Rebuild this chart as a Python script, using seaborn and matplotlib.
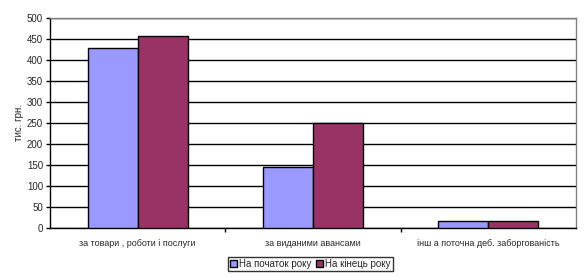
import matplotlib
matplotlib.use("Agg")
import matplotlib.pyplot as plt
import seaborn as sns
import pandas as pd

categories = ["за товари , роботи і послуги", "за виданими авансами", "інш а поточна деб. заборгованість"]
series_names = ["На початок року", "На кінець року"]
start_values = [430, 144, 17]
end_values = [457, 249, 15]
colors = ["#9999FF", "#993366"]

df = pd.DataFrame({
    "cat": categories * 2,
    "series": [series_names[0]] * 3 + [series_names[1]] * 3,
    "value": start_values + end_values,
})

sns.set_theme(style="white")
plt.rcParams["font.family"] = ["Liberation Sans", "DejaVu Sans"]

fig = plt.figure(figsize=(5.87, 2.77), dpi=100)
ax = fig.add_axes([0.0852, 0.178, 0.896, 0.756])
sns.barplot(data=df, x="cat", y="value", hue="series", palette=colors, saturation=1,
            width=0.57, edgecolor="black", linewidth=1.0, ax=ax, legend=True, zorder=3)

ax.set_ylim(0, 500)
ax.set_yticks(range(0, 501, 50))
ax.set_xlim(-0.5, 2.5)
ax.yaxis.grid(True, color="black", linewidth=1.0, zorder=0)
ax.set_axisbelow(True)
ax.set_xlabel("")
ax.set_ylabel("тис. грн.", fontsize=7, labelpad=2)
ax.tick_params(axis="y", labelsize=7, length=3, width=1, color="black", left=True, pad=2)
ax.tick_params(axis="x", labelsize=6.5, length=0, pad=8)
ax.set_xticks([0.5, 1.5], minor=True)
ax.tick_params(axis="x", which="minor", length=3, width=1, color="black", bottom=True)

for side in ["top", "right"]:
    ax.spines[side].set_color("#808080")
    ax.spines[side].set_linewidth(1)
ax.spines["left"].set_color("black")
ax.spines["bottom"].set_color("black")
ax.spines["left"].set_linewidth(1)
ax.spines["bottom"].set_linewidth(1)

leg = ax.legend(loc="upper center", bbox_to_anchor=(0.495, -0.14), ncol=2, fontsize=7,
                frameon=True, fancybox=False, edgecolor="black", handlelength=0.7,
                handleheight=0.7, handletextpad=0.3, columnspacing=0.4, borderpad=0.2,
                borderaxespad=0)
leg.get_frame().set_linewidth(1)

fig.savefig("out.png", dpi=100)
